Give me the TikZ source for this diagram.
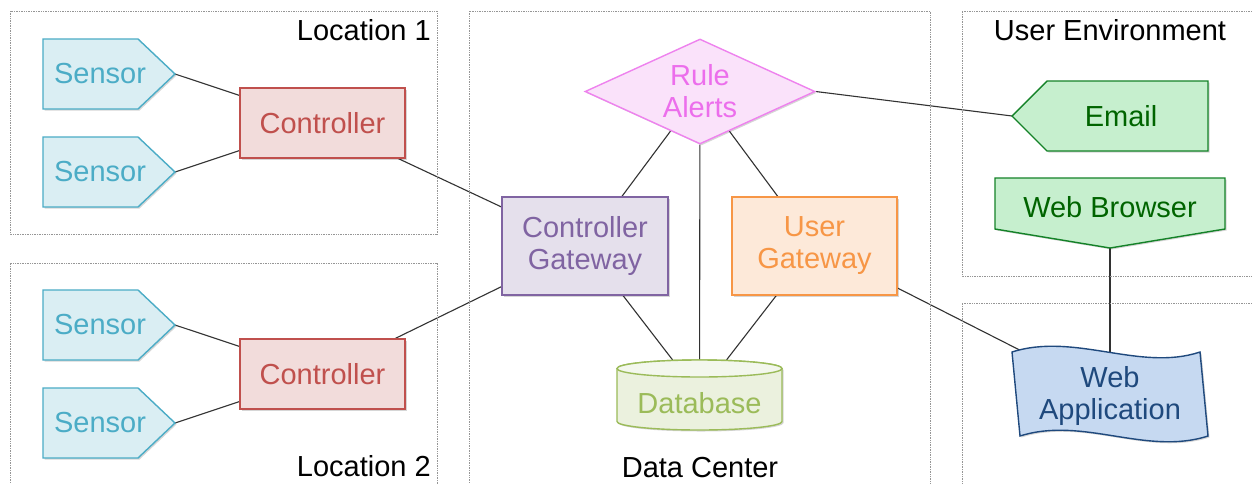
\documentclass[tikz,border=0pt]{standalone}
\usepackage{fontspec}
\setmainfont{Liberation Sans}
\usetikzlibrary{shapes.geometric,backgrounds}
\definecolor{sensF}{RGB}{218,238,243}
\definecolor{sensD}{RGB}{75,172,198}
\definecolor{ctlF}{RGB}{242,220,219}
\definecolor{ctlD}{RGB}{192,80,77}
\definecolor{cgF}{RGB}{229,224,236}
\definecolor{cgD}{RGB}{128,100,162}
\definecolor{ugF}{RGB}{253,233,217}
\definecolor{ugD}{RGB}{247,150,70}
\definecolor{ruF}{RGB}{250,226,250}
\definecolor{ruD}{RGB}{238,130,238}
\definecolor{ruT}{RGB}{236,110,236}
\definecolor{dbF}{RGB}{235,241,222}
\definecolor{dbTop}{RGB}{243,247,237}
\definecolor{dbD}{RGB}{155,187,89}
\definecolor{grF}{RGB}{198,239,206}
\definecolor{grD}{RGB}{20,130,40}
\definecolor{grT}{RGB}{0,100,0}
\definecolor{waF}{RGB}{198,217,241}
\definecolor{waD}{RGB}{31,73,125}
\definecolor{lineC}{RGB}{50,50,50}
\definecolor{zoneC}{RGB}{150,150,150}
\begin{document}
\begin{tikzpicture}[x=1pt,y=-1pt,
  every node/.style={font=\fontsize{29}{32}\selectfont, align=center, inner sep=0pt},
  shade/.style={preaction={fill=black,opacity=0.16,transform canvas={shift={(1.5pt,-1.5pt)}}}},
  outl/.style={line width=1.4pt, line join=miter},
  zone/.style={draw=zoneC, densely dotted, line width=0.7pt},
  zonelabel/.style={text=black},
  conn/.style={draw=lineC, line width=1.1pt},
  sensorshape/.style={outl, shade, fill=sensF, draw=sensD},
  ctlbox/.style={rectangle, outl, shade, fill=ctlF, draw=ctlD, text=ctlD, minimum width=165, minimum height=70},
  cgbox/.style={rectangle, outl, shade, fill=cgF, draw=cgD, text=cgD, minimum width=166, minimum height=98},
  ugbox/.style={rectangle, outl, shade, fill=ugF, draw=ugD, text=ugD, minimum width=165, minimum height=98},
  rulebox/.style={diamond, aspect=2.4, outl, shade, fill=ruF, draw=ruD, text=ruT, minimum width=230, minimum height=105},
  greenshape/.style={outl, shade, fill=grF, draw=grD},
  plain/.style={rectangle, minimum width=165, minimum height=70}
]
\begin{pgfonlayer}{background}
  \fill[white] (0,0) rectangle (1252,483);
\end{pgfonlayer}
\useasboundingbox (0,0) rectangle (1252,483);

% zones
\draw[zone] (10,11) rectangle (437,234);
\draw[zone] (10,486) -- (10,263) -- (437,263) -- (437,486);
\draw[zone] (469,486) -- (469,11) -- (930,11) -- (930,486);
\draw[zone] (1255,11) -- (962,11) -- (962,276) -- (1255,276);
\draw[zone] (1255,303) -- (962,303) -- (962,486);
\node[zonelabel, anchor=base east] (loc1) at (431,40) {Location 1};
\node[zonelabel, anchor=base east] (loc2) at (431,476) {Location 2};
\node[zonelabel, anchor=base] (dc) at (700,477) {Data Center};
\node[zonelabel, anchor=base] (ue) at (1110,40) {User Environment};

% sensors
\foreach \i/\y in {1/74,2/172,3/325,4/423}{
  \draw[sensorshape] (43,\y-35) -- (138,\y-35) -- (175,\y) -- (138,\y+35) -- (43,\y+35) -- cycle;
  \node[text=sensD] (s\i) at (100,\y) {Sensor};
  \coordinate (s\i tip) at (175,\y);
}

% controllers
\node[ctlbox] (c1) at (322.5,123) {Controller};
\node[ctlbox] (c2) at (322.5,374) {Controller};

% data center
\node[rulebox] (rule) at (700,91.5) {Rule\\Alerts};
\node[cgbox] (cg) at (585,246) {Controller\\Gateway};
\node[ugbox] (ug) at (814.5,246) {User\\Gateway};

\path[outl, shade, fill=dbF, draw=dbD] (617,368.5) -- (617,421.5)
  arc[start angle=180, end angle=0, x radius=82.5, y radius=8.5]
  -- (782,368.5)
  arc[start angle=0, end angle=-180, x radius=82.5, y radius=8.5] -- cycle;
\draw[outl, fill=dbTop, draw=dbD] (699.5,368.5) ellipse[x radius=82.5, y radius=8.5];
\node[plain] (db) at (699.5,395) {};
\node[text=dbD, anchor=base] (dbtext) at (699.5,413) {Database};

% user environment
\draw[greenshape] (1012,116) -- (1047,81) -- (1208,81) -- (1208,151) -- (1047,151) -- cycle;
\node[text=grT] (email) at (1121,116) {Email};
\coordinate (emailtip) at (1012,116);

\draw[greenshape] (995,178) -- (1225,178) -- (1225,229) -- (1110,248) -- (995,229) -- cycle;
\node[text=grT] (wb) at (1110,207) {Web Browser};
\coordinate (wbtip) at (1110,248);

% web application
\path[outl, shade, fill=waF, draw=waD] (1012,352)
  .. controls (1075,332) and (1140,372) .. (1200,352)
  -- (1208,436)
  .. controls (1146,456) and (1083,416) .. (1020,436) -- cycle;
\node[rectangle, text=waD, minimum width=190, minimum height=80] (wa) at (1110,396) {Web\\Application};

% connectors
\begin{pgfonlayer}{background}
  \foreach \i in {1,2}{\draw[conn] (s\i tip) -- (c1);}
  \foreach \i in {3,4}{\draw[conn] (s\i tip) -- (c2);}
  \draw[conn] (c1) -- (cg);
  \draw[conn] (c2) -- (cg);
  \draw[conn] (rule) -- (cg);
  \draw[conn] (rule) -- (ug);
  \draw[conn] (rule) -- (db);
  \draw[conn] (cg) -- (db);
  \draw[conn] (ug) -- (db);
  \draw[conn] (rule.east) -- (emailtip);
  \draw[conn] (ug) -- (wa);
  \draw[conn] (wbtip) -- (wa);
\end{pgfonlayer}
\end{tikzpicture}
\end{document}
